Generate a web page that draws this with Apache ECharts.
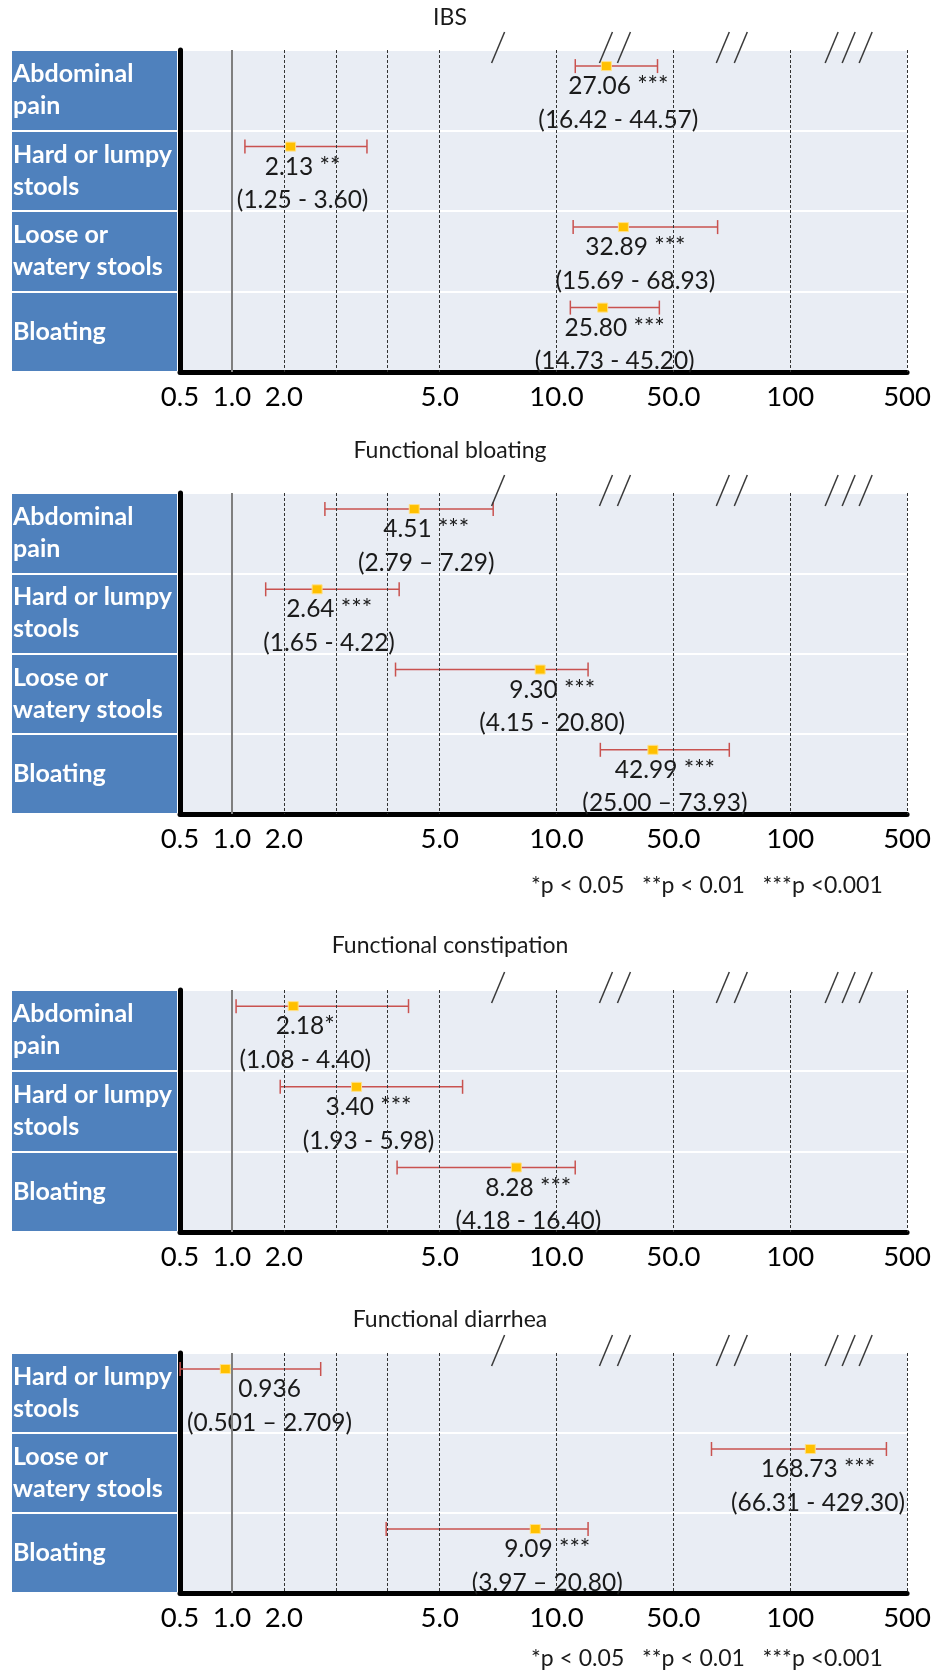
<!DOCTYPE html>
<html>
<head>
<meta charset="utf-8">
<script src="https://cdn.jsdelivr.net/npm/echarts@6/dist/echarts.min.js"></script>
<style>
html,body{margin:0;padding:0;background:#ffffff;}
#chart{width:934px;height:1673px;}
</style>
</head>
<body>
<div id="chart"></div>
<script>
// ---------------- data ----------------
const tickValues = [0.5, 1, 2, 5, 10, 50, 100, 500];
const tickLabels = ['0.5', '1.0', '2.0', '5.0', '10.0', '50.0', '100', '500'];
const gridValues = [1, 2, 3, 4, 5, 10, 50, 100, 500];
const breakFrom = [5, 10, 50, 100];
const breakTo = [10, 50, 100, 500];
const breakCounts = [1, 2, 2, 3];

const ibsCats = ['Abdominal\npain', 'Hard or lumpy\nstools', 'Loose or\nwatery stools', 'Bloating'];
const ibsOR = [27.06, 2.13, 32.89, 25.80];
const ibsLo = [16.42, 1.25, 15.69, 14.73];
const ibsHi = [44.57, 3.60, 68.93, 45.20];
const ibsSig = [' ***', ' **', ' ***', ' ***'];
const ibsDash = ['-', '-', '-', '-'];
const ibsDigits = [2, 2, 2, 2];

const fbCats = ['Abdominal\npain', 'Hard or lumpy\nstools', 'Loose or\nwatery stools', 'Bloating'];
const fbOR = [4.51, 2.64, 9.30, 42.99];
const fbLo = [2.79, 1.65, 4.15, 25.00];
const fbHi = [7.29, 4.22, 20.80, 73.93];
const fbSig = [' ***', ' ***', ' ***', ' ***'];
const fbDash = ['\u2013', '-', '-', '\u2013'];
const fbDigits = [2, 2, 2, 2];

const fcCats = ['Abdominal\npain', 'Hard or lumpy\nstools', 'Bloating'];
const fcOR = [2.18, 3.40, 8.28];
const fcLo = [1.08, 1.93, 4.18];
const fcHi = [4.40, 5.98, 16.40];
const fcSig = ['*', ' ***', ' ***'];
const fcDash = ['-', '-', '-'];
const fcDigits = [2, 2, 2];

const fdCats = ['Hard or lumpy\nstools', 'Loose or\nwatery stools', 'Bloating'];
const fdOR = [0.936, 168.73, 9.09];
const fdLo = [0.501, 66.31, 3.97];
const fdHi = [2.709, 429.30, 20.80];
const fdSig = ['', ' ***', ' ***'];
const fdDash = ['\u2013', '-', '\u2013'];
const fdDigits = [3, 2, 2];

const legendText = '*p < 0.05   **p < 0.01   ***p <0.001';

// ---------------- piecewise (broken) scale ----------------
const segVals = [0.5, 1, 5, 10, 50, 100, 500];
const segPos = [0, 1, 5, 7.25, 9.5, 11.75, 14];
function pos(v) {
  for (let i = 0; i < segVals.length - 1; i++) {
    if (v <= segVals[i + 1] || i === segVals.length - 2) {
      const t = (v - segVals[i]) / (segVals[i + 1] - segVals[i]);
      return segPos[i] + t * (segPos[i + 1] - segPos[i]);
    }
  }
}
const tickPos = tickValues.map(pos);

// ---------------- style ----------------
const FONT = 'Lato, "Noto Sans", "DejaVu Sans", sans-serif';
const RED = '#C9524F';
const BLUE = '#4F81BD';
const BG = '#E9EDF4';
const TXT = '#1a1a1a';
const DATA_FS = 24.5;

const measureCtx = document.createElement('canvas').getContext('2d');
function textW(s) {
  measureCtx.font = DATA_FS + 'px ' + FONT;
  return measureCtx.measureText(s).width;
}

const panels = [
  {title: 'IBS', cats: ibsCats, or: ibsOR, lo: ibsLo, hi: ibsHi, sig: ibsSig, dash: ibsDash, dig: ibsDigits,
   titleTop: 6, top: 50, height: 322, legendTop: null},
  {title: 'Functional bloating', cats: fbCats, or: fbOR, lo: fbLo, hi: fbHi, sig: fbSig, dash: fbDash, dig: fbDigits,
   titleTop: 439, top: 493, height: 321, legendTop: 874},
  {title: 'Functional constipation', cats: fcCats, or: fcOR, lo: fcLo, hi: fcHi, sig: fcSig, dash: fcDash, dig: fcDigits,
   titleTop: 934, top: 990, height: 242, legendTop: null},
  {title: 'Functional diarrhea', cats: fdCats, or: fdOR, lo: fdLo, hi: fdHi, sig: fdSig, dash: fdDash, dig: fdDigits,
   titleTop: 1308, top: 1353, height: 240, legendTop: 1647}
];

const grid = [], xAxis = [], yAxis = [], series = [], title = [];

panels.forEach((p, i) => {
  grid.push({left: 180, right: 25, top: p.top, height: p.height, show: true,
    backgroundColor: BG, borderWidth: 0});
  grid.push({left: 12, width: 165, top: p.top, height: p.height, show: false});

  title.push({text: p.title, left: 450, top: p.titleTop, textAlign: 'center', padding: 0,
    textStyle: {fontFamily: FONT, fontSize: 23, fontWeight: 'normal', color: TXT}});
  if (p.legendTop !== null) {
    title.push({text: legendText, left: 531, top: p.legendTop, padding: 0,
      textStyle: {fontFamily: FONT, fontSize: 23, fontWeight: 'normal', color: TXT}});
  }
});

panels.forEach((p, i) => {
  xAxis.push({
    type: 'value', gridIndex: 2 * i, min: 0, max: 14, interval: 0.25,
    axisLine: {show: true, onZero: false, lineStyle: {color: '#000', width: 5}},
    axisTick: {show: false},
    splitLine: {show: false},
    axisLabel: {
      show: true, margin: 11, fontFamily: FONT, fontSize: 27.5, color: '#000',
      formatter: function (v) {
        for (let k = 0; k < tickPos.length; k++) {
          if (Math.abs(tickPos[k] - v) < 1e-6) return tickLabels[k];
        }
        return '';
      }
    }
  });
  xAxis.push({type: 'value', gridIndex: 2 * i + 1, min: 0, max: 1, show: false});
  yAxis.push({
    type: 'category', gridIndex: 2 * i, data: p.cats, inverse: true,
    axisLine: {show: true, onZero: false, lineStyle: {color: '#000', width: 5}},
    axisTick: {show: false}, axisLabel: {show: false},
    splitLine: {show: true, interval: 0, lineStyle: {color: '#ffffff', width: 2}}
  });
  yAxis.push({
    type: 'category', gridIndex: 2 * i + 1, data: p.cats, inverse: true, z: 5,
    axisLine: {show: false}, axisTick: {show: false}, axisLabel: {show: false},
    splitLine: {show: true, interval: 0, lineStyle: {color: '#ffffff', width: 2}}
  });
});

panels.forEach((p, i) => {
  const xi = 2 * i, xl = 2 * i + 1;
  // label column (blue bands with white category names)
  series.push({
    type: 'bar', xAxisIndex: xl, yAxisIndex: xl, barWidth: '100%', silent: true,
    data: p.cats.map(() => 1),
    itemStyle: {color: BLUE},
    label: {show: true, position: 'insideLeft', distance: 1, formatter: '{b}',
      color: '#ffffff', fontFamily: FONT, fontWeight: 'bold', fontSize: 25, lineHeight: 32}
  });
  // reference grid lines
  series.push({
    type: 'scatter', xAxisIndex: xi, yAxisIndex: xi, data: [], z: 1, silent: true,
    markLine: {
      silent: true, symbol: 'none', label: {show: false}, animation: false,
      data: gridValues.map(v => ({
        xAxis: pos(v),
        lineStyle: v === 1 ? {color: '#7f7f7f', width: 2, type: 'solid'}
                           : {color: '#333333', width: 1, type: [3, 2]}
      }))
    }
  });
  // break marks above the plot
  series.push({
    type: 'custom', xAxisIndex: xi, yAxisIndex: xi, silent: true, z: 4, clip: false,
    data: breakCounts.map((n, k) => [(pos(breakFrom[k]) + pos(breakTo[k])) / 2, 0, n]),
    encode: {x: 0, y: 1},
    renderItem: function (params, api) {
      const x = api.coord([api.value(0), 0])[0];
      const n = api.value(2);
      const top = params.coordSys.y;
      const sep = n === 3 ? 17 : 18;
      const children = [];
      for (let k = 0; k < n; k++) {
        const cx = x + (k - (n - 1) / 2) * sep;
        children.push({type: 'line', shape: {x1: cx + 6.5, y1: top - 18, x2: cx - 6.5, y2: top + 13},
          style: {stroke: '#3a3a3a', lineWidth: 1.5}});
      }
      return {type: 'group', children: children};
    }
  });
  // odds ratios with confidence intervals
  const texts = p.or.map((v, k) => [
    v.toFixed(p.dig[k]) + p.sig[k],
    '(' + p.lo[k].toFixed(p.dig[k]) + ' ' + p.dash[k] + ' ' + p.hi[k].toFixed(p.dig[k]) + ')'
  ]);
  series.push({
    type: 'custom', xAxisIndex: xi, yAxisIndex: xi, silent: true, z: 3, clip: false,
    data: p.or.map((v, k) => [pos(v), pos(p.lo[k]), pos(p.hi[k]), k]),
    encode: {x: [0, 1, 2], y: 3},
    renderItem: function (params, api) {
      const idx = api.value(3);
      const c = api.coord([api.value(0), idx]);
      const l = api.coord([api.value(1), idx]);
      const h = api.coord([api.value(2), idx]);
      const band = api.size([0, 1])[1];
      const top = c[1] - band / 2;
      const my = top + band * 0.2;
      const cs = params.coordSys;
      const t = texts[params.dataIndex];
      const w = Math.max(textW(t[0]), textW(t[1]));
      let cx = c[0] + 12;
      cx = Math.max(cx, cs.x + 7 + w / 2);
      cx = Math.min(cx, cs.x + cs.width - 2 - w / 2);
      const tStyle = (s) => ({text: s, fill: TXT, fontFamily: FONT, fontSize: DATA_FS,
        align: 'center', verticalAlign: 'middle', textAlign: 'center', textVerticalAlign: 'middle'});
      return {type: 'group', children: [
        {type: 'line', shape: {x1: l[0], y1: my, x2: h[0], y2: my}, style: {stroke: RED, lineWidth: 1.5}},
        {type: 'line', shape: {x1: l[0], y1: my - 7, x2: l[0], y2: my + 7}, style: {stroke: RED, lineWidth: 1.5}},
        {type: 'line', shape: {x1: h[0], y1: my - 7, x2: h[0], y2: my + 7}, style: {stroke: RED, lineWidth: 1.5}},
        {type: 'rect', shape: {x: c[0] - 5, y: my - 4.5, width: 10, height: 9},
          style: {fill: '#FFC000', stroke: '#FFE08A', lineWidth: 1}},
        {type: 'text', x: cx, y: top + band * 0.45, style: tStyle(t[0])},
        {type: 'text', x: cx, y: top + band * 0.87, style: tStyle(t[1])}
      ]};
    }
  });
});

const chart = echarts.init(document.getElementById('chart'), null, {renderer: 'canvas'});
chart.setOption({
  animation: false,
  backgroundColor: '#ffffff',
  title: title,
  grid: grid,
  xAxis: xAxis,
  yAxis: yAxis,
  series: series
});
</script>
</body>
</html>
